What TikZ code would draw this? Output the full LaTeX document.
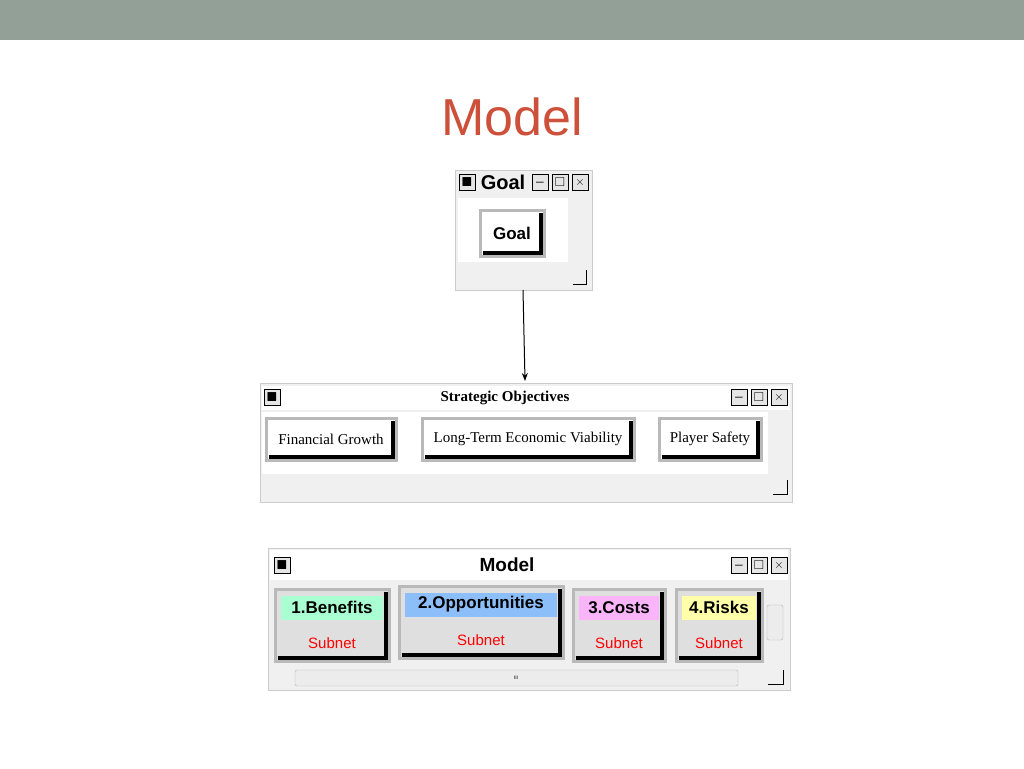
\documentclass[tikz,border=0pt]{standalone}
\usepackage{amssymb}
\usepackage{fontspec}
\setmainfont{Liberation Serif}
\newfontfamily\uifont{Liberation Sans}
\usetikzlibrary{arrows.meta}
\definecolor{topbar}{RGB}{146,160,152}
\definecolor{titlered}{RGB}{205,80,58}
\definecolor{winbg}{RGB}{240,240,240}
\definecolor{mint}{RGB}{170,255,210}
\definecolor{skyblue}{RGB}{140,190,250}
\definecolor{pinkish}{RGB}{250,180,250}
\definecolor{paleyellow}{RGB}{255,255,170}
\newcommand{\bevel}[1]{\draw[black, line width=4pt] ([xshift=4pt,yshift=5pt]#1.south west) -- ([xshift=-5pt,yshift=5pt]#1.south east) -- ([xshift=-5pt,yshift=-4pt]#1.north east);}
\tikzset{
  win/.style={fill=winbg, draw=gray!40},
  btn/.style={draw=gray!55, line width=3pt, fill=white},
  sub/.style={font=\uifont\fontsize{15}{17}\selectfont, text=red},
  ctl/.style={draw=black, line width=0.8pt, fill=gray!20, minimum width=16pt, minimum height=16pt, inner sep=0pt, font=\uifont\fontsize{13}{14}\selectfont}
}
\begin{document}
\begin{tikzpicture}[x=1pt,y=-1pt]
                \useasboundingbox (0,0) rectangle (1024,768);
                \fill[topbar] (0,0) rectangle (1024,40);
                \node[font=\uifont\fontsize{52}{60}\selectfont, text=titlered] (title) at (512,117) {Model};

                % goal window
                \draw[win] (455,170) rectangle (592,290);
                \node[ctl] (goalsys) at (467,182) {$\blacksquare$};
                \node[font=\uifont\bfseries\fontsize{20}{22}\selectfont] (goalhead) at (503,182) {Goal};
                \node[ctl] at (540,182) {\_};
                \node[ctl] at (560,182) {$\square$};
                \node[ctl] at (580,182) {$\times$};
                \fill[white] (458,198) rectangle (568,262);
                \node[btn, minimum width=64pt, minimum height=46pt, font=\uifont\bfseries\fontsize{17}{19}\selectfont] (goal) at (512,233) {Goal};
                \bevel{goal}
                \draw[black] (573,284) -- (586,284) -- (586,270);

                % strategic objectives window
                \draw[win] (260,383) rectangle (792,502);
                \fill[white] (262,386) rectangle (790,410);
                \node[ctl] (stratsys) at (272,397) {$\blacksquare$};
                \node[font=\bfseries\fontsize{15}{17}\selectfont] (strathead) at (505,398) {Strategic Objectives};
                \node[ctl] at (739,397) {\_};
                \node[ctl] at (759,397) {$\square$};
                \node[ctl] at (779,397) {$\times$};
                \fill[white] (262,412) rectangle (768,474);
                \node[btn, minimum width=130pt, minimum height=42pt, font=\fontsize{15}{17}\selectfont] (fin) at (331,439) {Financial Growth};
                \node[btn, minimum width=212pt, minimum height=42pt, font=\fontsize{15}{17}\selectfont] (ltev) at (528,439) {Long-Term Economic Viability};
                \node[btn, minimum width=102pt, minimum height=42pt, font=\fontsize{15}{17}\selectfont] (safe) at (710,439) {Player Safety};
                \bevel{fin}
                \bevel{ltev}
                \bevel{safe}
                \draw[black] (773,494) -- (787,494) -- (787,480);

                \coordinate (gout) at (523,290);
                \coordinate (sin) at (525,381);
                \draw[line width=1pt, -{Stealth[length=8pt]}] (gout) -- (sin);

                % model window
                \draw[win] (268,548) rectangle (790,690);
                \fill[white] (270,550) rectangle (788,580);
                \node[ctl] (modsys) at (282,565) {$\blacksquare$};
                \node[font=\uifont\bfseries\fontsize{19}{21}\selectfont] (modhead) at (507,565) {Model};
                \node[ctl] at (739,565) {\_};
                \node[ctl] at (759,565) {$\square$};
                \node[ctl] at (779,565) {$\times$};
                \foreach \nm/\cx/\cy/\w/\lab/\col in {ben/332/625/114/1.Benefits/mint, opp/481/622/164/2.Opportunities/skyblue, cst/619/625/92/3.Costs/pinkish, rsk/719/625/86/4.Risks/paleyellow} {
                  \node[btn, fill=gray!25, minimum width=\w pt, minimum height=72pt] (\nm) at (\cx,\cy) {};
                  \fill[\col] ([xshift=7pt,yshift=-8pt]\nm.north west) rectangle ([xshift=-8pt,yshift=-32pt]\nm.north east);
                  \node[font=\uifont\bfseries\fontsize{17}{19}\selectfont] at ([yshift=-20pt]\nm.north) {\lab};
                  \node[sub] at ([yshift=19pt]\nm.south) {Subnet};
                  \bevel{\nm}
                }
                \draw[gray!60, fill=gray!15, rounded corners=2pt] (295,670) rectangle (738,686);
                \node[font=\uifont\tiny] at (516,678) {III};
                \draw[gray!60, fill=gray!15, rounded corners=2pt] (767,605) rectangle (783,640);
                \draw[black] (768,684) -- (783,684) -- (783,670);
            \end{tikzpicture}
\end{document}
